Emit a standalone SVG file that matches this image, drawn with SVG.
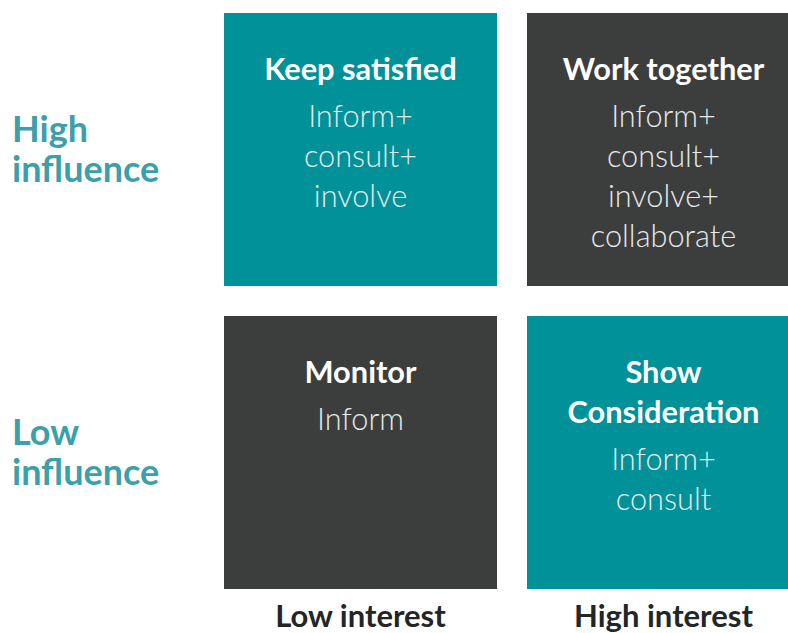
<svg xmlns="http://www.w3.org/2000/svg" width="788" height="633" viewBox="0 0 788 633">
<style>
.teal{fill:#009199}
.dark{fill:#3c3d3d}
text{font-family:Lato,"Open Sans","Liberation Sans",sans-serif;text-anchor:middle}
.t{fill:#ffffff;font-weight:700;font-size:30.8px}
.b{fill:#e6eaea;font-weight:300;font-size:30.7px}
.side{fill:#3ba0aa;font-weight:700;font-size:36px;text-anchor:start}
.axis{fill:#222626;font-weight:700;font-size:31px}
</style>
<rect width="788" height="633" fill="#ffffff"/>
<g id="keep-satisfied">
<rect class="teal" x="224" y="13" width="273" height="273"/>
<text class="t" x="360.5" y="80">Keep satisfied</text>
<text class="b" x="360.5" y="127">Inform+</text>
<text class="b" x="360.5" y="167">consult+</text>
<text class="b" x="360.5" y="207">involve</text>
</g>
<g id="work-together">
<rect class="dark" x="527" y="13" width="273" height="273"/>
<text class="t" x="663.5" y="80">Work together</text>
<text class="b" x="663.5" y="127">Inform+</text>
<text class="b" x="663.5" y="167">consult+</text>
<text class="b" x="663.5" y="207">involve+</text>
<text class="b" x="663.5" y="247">collaborate</text>
</g>
<g id="monitor">
<rect class="dark" x="224" y="316" width="273" height="273"/>
<text class="t" x="360.5" y="383">Monitor</text>
<text class="b" x="360.5" y="430">Inform</text>
</g>
<g id="show-consideration">
<rect class="teal" x="527" y="316" width="273" height="273"/>
<text class="t" x="663.5" y="383">Show</text>
<text class="t" x="663.5" y="423">Consideration</text>
<text class="b" x="663.5" y="470">Inform+</text>
<text class="b" x="663.5" y="510">consult</text>
</g>
<g id="labels">
<text class="side" x="12" y="142">High</text>
<text class="side" x="12" y="182">influence</text>
<text class="side" x="12" y="445">Low</text>
<text class="side" x="12" y="485">influence</text>
<text class="axis" x="360.5" y="627">Low interest</text>
<text class="axis" x="663.5" y="627">High interest</text>
</g>
</svg>
